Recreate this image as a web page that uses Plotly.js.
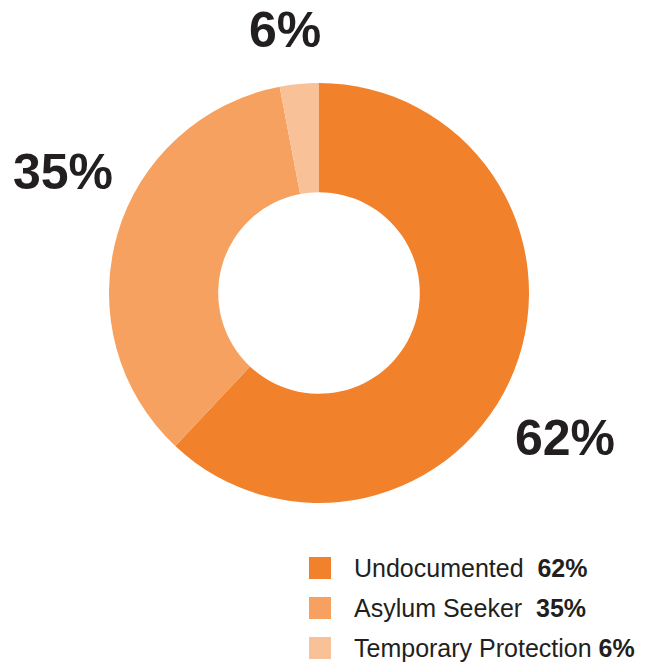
<!DOCTYPE html>
<html>
<head>
<meta charset="utf-8">
<script src="https://cdn.plot.ly/plotly-3.0.1.min.js"></script>
<style>html,body{margin:0;padding:0;background:#fff;}#chart{width:652px;height:662px;}</style>
</head>
<body>
<div id="chart"></div>
<script>
const categories = ['Undocumented', 'Asylum Seeker', 'Temporary Protection'];
const sliceValues = [62, 35, 3];
const percentLabels = ['62%', '35%', '6%'];
const sliceColors = ['#F2812B', '#F6A15F', '#F8C197'];

const W = 652, H = 662;
const px = x => x / W;
const py = y => 1 - y / H;

// outer label positions (pixels, centre of text)
const outerLabelPos = [[565, 438], [63, 172], [285, 30]];
// legend row centres
const legendRows = [568, 608, 648];
const legendGap = ['&nbsp;&nbsp;', '&nbsp;&nbsp;', '&nbsp;'];

const textColor = '#231f20';

const annotations = [];
const shapes = [];
percentLabels.forEach((t, i) => {
  annotations.push({
    xref: 'paper', yref: 'paper', x: px(outerLabelPos[i][0]), y: py(outerLabelPos[i][1]),
    xanchor: 'center', yanchor: 'middle', showarrow: false,
    text: '<b>' + t + '</b>',
    font: {family: 'Liberation Sans, Arial, sans-serif', size: 50, color: textColor}
  });
});
categories.forEach((c, i) => {
  const yc = legendRows[i];
  shapes.push({
    type: 'rect', xref: 'paper', yref: 'paper',
    x0: px(309), x1: px(331), y0: py(yc + 11), y1: py(yc - 11),
    fillcolor: sliceColors[i], line: {width: 0}
  });
  annotations.push({
    xref: 'paper', yref: 'paper', x: px(352), y: py(yc),
    xanchor: 'left', yanchor: 'middle', showarrow: false,
    text: c + legendGap[i] + '<b>' + percentLabels[i] + '</b>',
    font: {family: 'Liberation Sans Narrow, Liberation Sans, Arial, sans-serif', size: 25, color: textColor}
  });
});

const data = [{
  type: 'pie',
  labels: categories,
  values: sliceValues,
  sort: false,
  direction: 'clockwise',
  rotation: 0,
  hole: 0.48,
  textinfo: 'none',
  hoverinfo: 'label+percent',
  marker: {colors: sliceColors, line: {width: 0}},
  domain: {x: [px(109), px(529)], y: [py(503), py(83)]},
  showlegend: false
}];

const layout = {
  width: W, height: H,
  margin: {l: 0, r: 0, t: 0, b: 0},
  paper_bgcolor: '#ffffff',
  plot_bgcolor: '#ffffff',
  showlegend: false,
  annotations: annotations,
  shapes: shapes
};

Plotly.newPlot('chart', data, layout, {displayModeBar: false, staticPlot: true});
</script>
</body>
</html>
